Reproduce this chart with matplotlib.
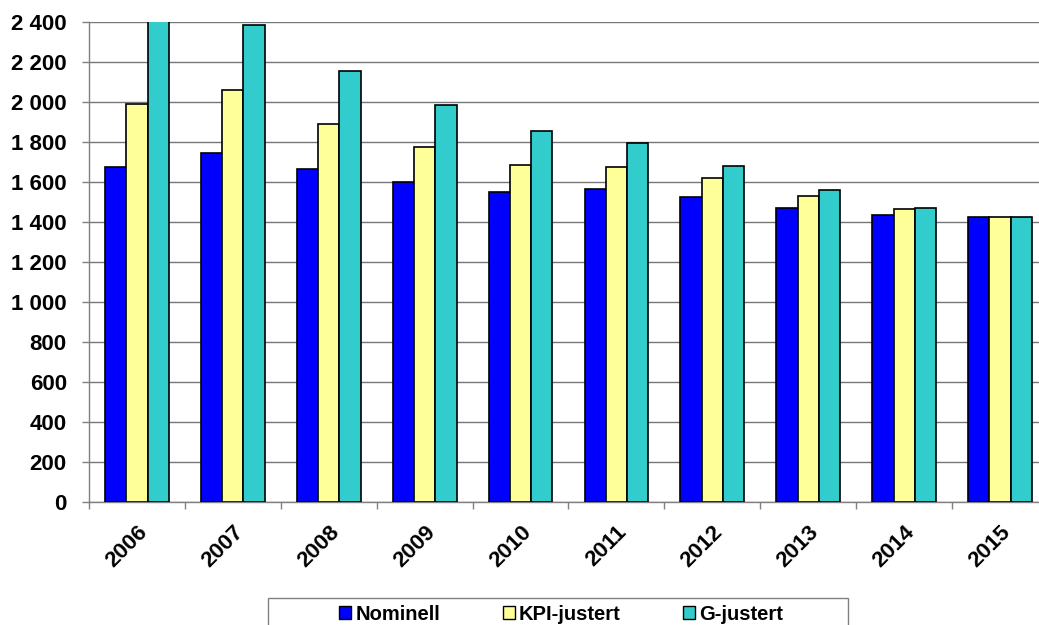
import matplotlib
matplotlib.use("Agg")
import matplotlib.pyplot as plt
import numpy as np
from matplotlib.ticker import FuncFormatter, FixedLocator
from matplotlib.patches import Patch, Rectangle
from matplotlib.transforms import ScaledTranslation

years = ["2006", "2007", "2008", "2009", "2010", "2011", "2012", "2013", "2014", "2015"]
nominell = [1676, 1747, 1665, 1598, 1550, 1563, 1525, 1468, 1433, 1425]
kpi_justert = [1990, 2058, 1888, 1777, 1685, 1677, 1620, 1528, 1465, 1425]
g_justert = [2440, 2387, 2157, 1983, 1857, 1793, 1680, 1560, 1468, 1425]
series_names = ["Nominell", "KPI-justert", "G-justert"]
colors = ["#0000FF", "#FFFF99", "#33CCCC"]

plt.rcParams['font.family'] = ['Liberation Sans', 'DejaVu Sans']

W, H = 1039, 625
fig = plt.figure(figsize=(W / 100, H / 100), dpi=100)
ax = fig.add_axes([89 / W, (H - 502) / H, 959 / W, 480 / H])

x = np.arange(len(years))
bw = 0.222
for i, (vals, c) in enumerate(zip([nominell, kpi_justert, g_justert], colors)):
    ax.bar(x + (i - 1) * bw, vals, width=bw, color=c, edgecolor='black',
           linewidth=1.2, zorder=3)

ax.set_xlim(-0.5, len(years) - 0.5)
ax.set_ylim(0, 2400)
ax.yaxis.set_major_locator(FixedLocator(np.arange(0, 2401, 200)))
ax.yaxis.set_major_formatter(FuncFormatter(lambda v, p: f"{int(v):,}".replace(",", " ")))
ax.grid(axis='y', color='#777777', linewidth=1.0, zorder=0)

ax.set_xticks(x)
ax.set_xticklabels(years, rotation=45, ha='right', va='top', rotation_mode='anchor',
                   fontsize=16, fontweight='bold')
shift = ScaledTranslation(-4 / 100, 0, fig.dpi_scale_trans)
for lab in ax.get_xticklabels():
    lab.set_transform(lab.get_transform() + shift)
ax.tick_params(axis='x', which='major', length=0, pad=14)
ax.set_xticks(np.arange(-0.5, len(years), 1), minor=True)
ax.tick_params(axis='x', which='minor', length=5, color='#808080', width=1)
ax.tick_params(axis='y', length=5, color='#808080', width=1, labelsize=16, pad=11)
for lab in ax.get_yticklabels():
    lab.set_fontweight('bold')

for s in ['top', 'right']:
    ax.spines[s].set_visible(False)
for s in ['left', 'bottom']:
    ax.spines[s].set_color('#808080')
    ax.spines[s].set_linewidth(1)

# legend box (extends past bottom edge)
fig.add_artist(Rectangle((268 / W, -0.05), 580 / W, (H - 598) / H + 0.05,
                         transform=fig.transFigure, facecolor='white',
                         edgecolor='#808080', linewidth=1, zorder=1))
handles = [Patch(facecolor=c, edgecolor='black', linewidth=1) for c in colors]
leg = fig.legend(handles, series_names, loc='center',
                 bbox_to_anchor=(561 / W, (H - 614) / H),
                 ncol=3, frameon=False, prop={'size': 14.5, 'weight': 'bold'},
                 handlelength=0.6, handleheight=0.6, handletextpad=0.2,
                 columnspacing=3.1, borderaxespad=0, borderpad=0)
leg.set_zorder(2)

fig.savefig("out.png", dpi=100)
